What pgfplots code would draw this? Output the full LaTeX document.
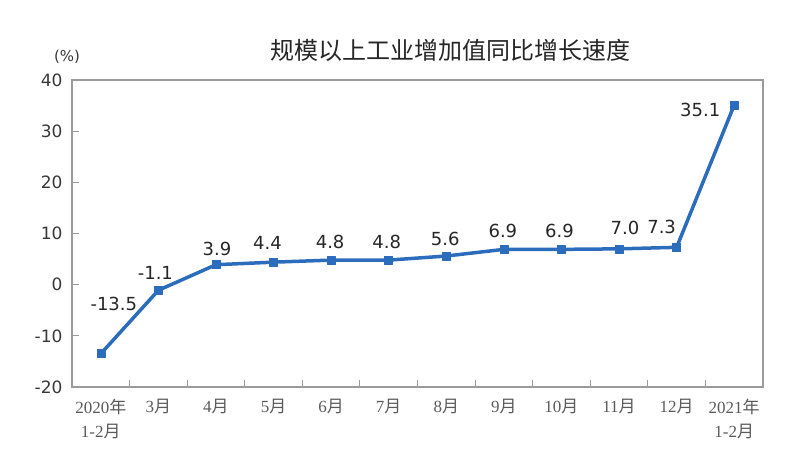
\documentclass[border=0pt]{standalone}
\usepackage{fontspec}
\usepackage{pgfplots}
\usepackage{pgfplotstable}
\pgfplotsset{compat=1.18}
\setmainfont{DejaVu Sans}
\newfontfamily\cjk{Noto Sans CJK SC}
\newfontfamily\srf{Liberation Serif}
\definecolor{lineblue}{RGB}{44,108,188}
\definecolor{framegray}{RGB}{155,155,155}
\definecolor{txtgray}{RGB}{55,55,55}
\definecolor{xgray}{RGB}{90,90,90}
\newcommand\yue[1]{{\srf #1}{\cjk 月}}
\newcommand\nian[2]{{\srf #1}{\cjk 年}\\{\srf #2}{\cjk 月}}
\pgfplotstableread{
x y dx dy lab
0 -13.5 13 50 -13.5
1 -1.1 -3 17 -1.1
2 3.9 1 16 3.9
3 4.4 -6 19 4.4
4 4.8 -1 18 4.8
5 4.8 -2 18 4.8
6 5.6 -1 17 5.6
7 6.9 -1 18 6.9
8 6.9 -2 18 6.9
9 7.0 6 21 7.0
10 7.3 -15 20 7.3
11 35.1 -34 -5 35.1
}\datatable
\begin{document}
\begin{tikzpicture}
\path[use as bounding box] (-72pt,-79pt) rectangle (728pt,387pt);
\begin{axis}[
  at={(0,0)}, anchor=south west,
  width=691pt, height=307pt, scale only axis,
  xmin=-0.5, xmax=11.5, ymin=-20, ymax=40,
  ytick={-20,-10,...,40},
  yticklabels={-20,-10,0,10,20,30,40},
  xtick={-0.5,0.5,...,11.5},
  x tick label as interval,
  xticklabels={{\nian{2020}{1-2}},{\yue{3}},{\yue{4}},{\yue{5}},{\yue{6}},{\yue{7}},{\yue{8}},{\yue{9}},{\yue{10}},{\yue{11}},{\yue{12}},{\nian{2021}{1-2}}},
  tick align=inside, xtick pos=bottom, ytick pos=left,
  major tick length=7pt,
  axis line style={framegray, line width=1.2pt},
  every tick/.style={framegray, line width=1pt},
  yticklabel style={font=\fontsize{17}{20}\selectfont, text=txtgray, xshift=-6pt},
  xticklabel style={font=\fontsize{17}{24}\selectfont, text=xgray, align=center, anchor=north, yshift=-9pt},
  clip=false,
]
\addplot[lineblue, line width=3.5pt, line join=round, mark=square*, mark size=4pt,
  mark options={fill=lineblue, draw=lineblue, line width=0.5pt},
  nodes near coords, point meta=explicit symbolic,
  visualization depends on={\thisrow{dx} \as \dx},
  visualization depends on={\thisrow{dy} \as \dy},
  every node near coord/.append style={font=\fontsize{18}{20}\selectfont, text=black!85, anchor=center, xshift=\dx pt, yshift=\dy pt}]
  table[x=x, y=y, meta=lab]{\datatable};
\node[font=\fontsize{15}{18}\selectfont, text=txtgray] at (rel axis cs:0,1) [xshift=-5pt, yshift=23pt] {(\%)};
\node[font=\cjk\fontsize{24}{28}\selectfont, text=black!85] at (rel axis cs:0.548,1) [yshift=30pt] {规模以上工业增加值同比增长速度};
\end{axis}
\end{tikzpicture}
\end{document}
